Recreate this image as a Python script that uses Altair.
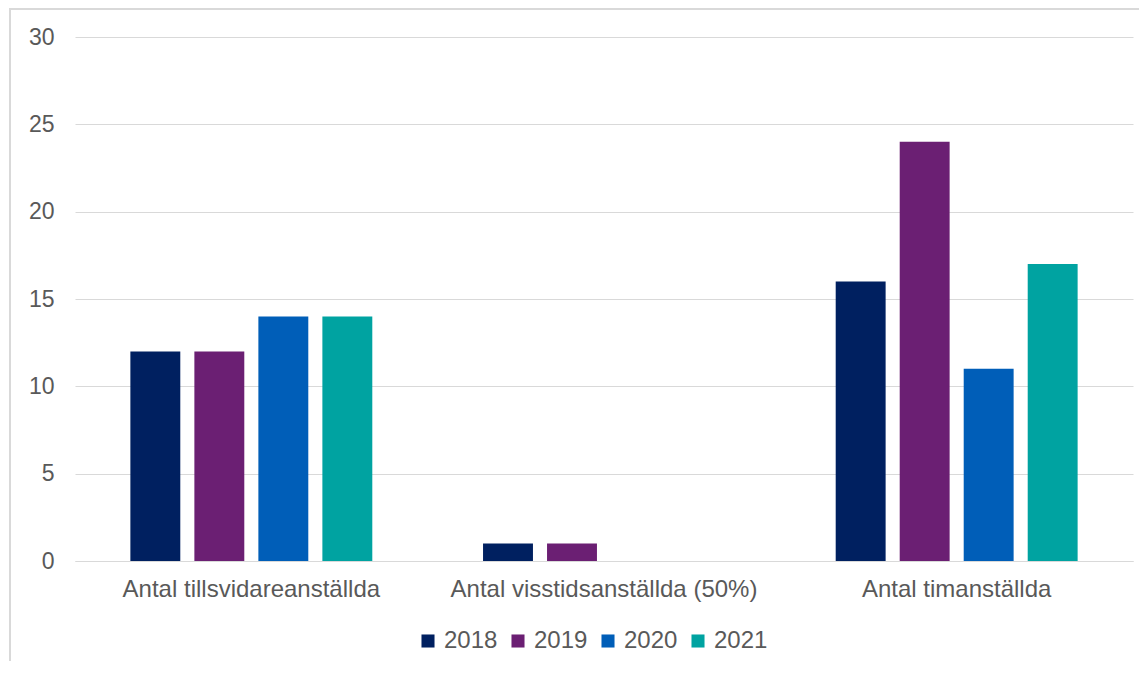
import altair as alt
import pandas as pd

categories = ["Antal tillsvidareanställda", "Antal visstidsanställda (50%)", "Antal timanställda"]
years = ["2018", "2019", "2020", "2021"]
values = {
    "2018": [12, 1, 16],
    "2019": [12, 1, 24],
    "2020": [14, 0, 11],
    "2021": [14, 0, 17],
}
colors = ["#002060", "#6B1F73", "#005EB8", "#00A3A1"]

rows = []
for y in years:
    for c, v in zip(categories, values[y]):
        rows.append({"cat": c, "year": y, "value": v})
df = pd.DataFrame(rows)

W, H = 1058, 524
FONT = "Liberation Sans"
GRAY = "#595959"

bars = alt.Chart(df).mark_bar().encode(
    x=alt.X("cat:N", sort=categories, title=None,
            scale=alt.Scale(paddingInner=0.314, paddingOuter=0.157),
            axis=alt.Axis(labelAngle=0, labelFontSize=24, labelFont=FONT, labelColor=GRAY,
                          ticks=False, domainColor="#d9d9d9", labelPadding=16, labelLimit=400,
                          grid=False)),
    xOffset=alt.XOffset("year:N", sort=years, scale=alt.Scale(paddingInner=0.22, paddingOuter=0)),
    y=alt.Y("value:Q", title=None,
            scale=alt.Scale(domain=[0, 30]),
            axis=alt.Axis(values=[0, 5, 10, 15, 20, 25, 30], labelFontSize=23, labelFont=FONT,
                          labelColor=GRAY, ticks=False, domain=False, gridColor="#d9d9d9",
                          labelPadding=21)),
    color=alt.Color("year:N", sort=years, scale=alt.Scale(domain=years, range=colors),
                    legend=alt.Legend(title=None, orient="none", direction="horizontal",
                                      legendX=341, legendY=592, symbolType="square",
                                      symbolSize=170, symbolStrokeWidth=0, labelFontSize=24,
                                      labelFont=FONT, labelColor=GRAY, columnPadding=8,
                                      labelOffset=4)),
)

border_df = pd.DataFrame({"k": [0]})
left_border = alt.Chart(border_df).mark_rule(color="#d9d9d9", strokeWidth=2).encode(
    x=alt.value(-65), y=alt.value(-29), y2=alt.value(H + 110))
top_border = alt.Chart(border_df).mark_rule(color="#d9d9d9", strokeWidth=2).encode(
    x=alt.value(-65), x2=alt.value(W + 10), y=alt.value(-28))

chart = alt.layer(bars, left_border, top_border).properties(
    width=W, height=H,
    background="white",
    autosize=alt.AutoSizeParams(type="none"),
    padding={"left": 67, "top": 29, "right": 6, "bottom": 100},
).configure_view(strokeWidth=0, stroke="transparent")

chart.save("out.html", embed_options={"renderer": "svg", "actions": False})
